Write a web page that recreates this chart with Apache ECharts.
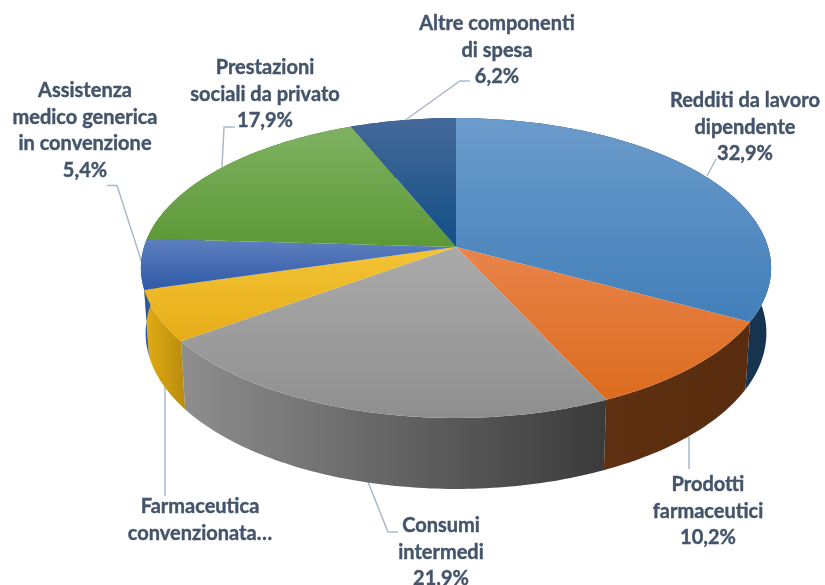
<!DOCTYPE html>
<html>
<head>
<meta charset="utf-8">
<title>Composizione della spesa</title>
<script src="https://cdn.jsdelivr.net/npm/echarts@6/dist/echarts.min.js"></script>
<style>
html, body { margin: 0; padding: 0; background: #fff; }
#chart { width: 825px; height: 585px; }
</style>
</head>
<body>
<div id="chart"></div>
<script>
// valori (clockwise da ore 12); Farmaceutica non ha etichetta, e' il resto a 100
var categoryNames = ['Redditi da lavoro dipendente', 'Prodotti farmaceutici', 'Consumi intermedi',
    'Farmaceutica convenzionata', 'Assistenza medico generica in convenzione',
    'Prestazioni sociali da privato', 'Altre componenti di spesa'];
var shareValues = [32.9, 10.2, 21.9, 5.5, 5.4, 17.9, 6.2];
var labelTexts = [
    ['Redditi da lavoro', 'dipendente', '32,9%'],
    ['Prodotti', 'farmaceutici', '10,2%'],
    ['Consumi', 'intermedi', '21,9%'],
    ['Farmaceutica', 'convenzionata…'],
    ['Assistenza', 'medico generica', 'in convenzione', '5,4%'],
    ['Prestazioni', 'sociali da privato', '17,9%'],
    ['Altre componenti', 'di spesa', '6,2%']
];

// colori: faccia superiore (alto, basso) e parete (sinistra, destra)
var topColors = [['#6b9bcb', '#427fb9'], ['#e8834a', '#dc6c1e'], ['#aaaaaa', '#8f8f8f'], ['#f3c435', '#e6ac17'],
    ['#5f80bf', '#2f5aa8'], ['#7fb262', '#5c9835'], ['#44699a', '#124f85']];
var wallColors = [['#1a3a5a', '#163450'], ['#5e3011', '#5a2c0f'], ['#8e8e8e', '#3a3a3a'], ['#e2ae12', '#b98b0e'],
    ['#2c57a2', '#2c57a2'], ['#4c7a2c', '#4c7a2c'], ['#123a60', '#123a60']];

// posizione delle etichette: centro x, y della prima riga, linea guida
var labelLayout = [
    { x: 745, y: 101, leader: [[716, 159], [707, 176]] },
    { x: 708, y: 485, leader: [[689, 437], [689, 469]] },
    { x: 441, y: 526, leader: [[398, 532], [388, 532], [368, 482]] },
    { x: 200, y: 507, leader: [[165, 385], [165, 496]] },
    { x: 85, y: 91, leader: [[107, 185.5], [117, 185.5], [142, 263]] },
    { x: 265, y: 68, leader: [[235, 127], [224, 127], [222, 167]] },
    { x: 497, y: 24, leader: [[470, 81], [460, 81], [404, 121]] }
];
var LINE_HEIGHT = 26.5;

// proiezione prospettica del disco
var CX = 456, CY = 247, RX = 312, RY = 147, PERSP = 0.14;

function project(deg, r) {
    var a = deg * Math.PI / 180;
    var u = Math.sin(a) * r, v = -Math.cos(a) * r;
    var w = 1 - PERSP * v;
    return { x: CX + RX * u / w, y: CY + RY * v / w, v: v };
}

// faccia inferiore: poco piu' stretta, spessore che cresce verso chi guarda
function projectBottom(deg) {
    var p = project(deg, 1);
    return [CX + (p.x - CX) * 0.985, p.y + 64 + 7 * p.v];
}

function sliceAngles(index) {
    var total = 0, start = 0;
    for (var i = 0; i < shareValues.length; i++) {
        if (i < index) start += shareValues[i];
        total += shareValues[i];
    }
    return [start / total * 360, (start + shareValues[index]) / total * 360];
}

function renderTop(params, api) {
    var ang = sliceAngles(params.dataIndex);
    var pts = [[CX, CY]];
    for (var d = ang[0]; d < ang[1]; d += 1) {
        var p = project(d, 1);
        pts.push([p.x, p.y]);
    }
    var e = project(ang[1], 1);
    pts.push([e.x, e.y]);
    var c = topColors[params.dataIndex];
    return {
        type: 'polygon',
        shape: { points: pts },
        style: {
            fill: new echarts.graphic.LinearGradient(0, 0, 0, 1, [
                { offset: 0, color: c[0] }, { offset: 1, color: c[1] }
            ])
        }
    };
}

function renderWall(params, api) {
    var ang = sliceAngles(params.dataIndex);
    var upper = [], lower = [];
    for (var d = ang[0]; d <= ang[1]; d += 1) {
        var p = project(d, 1);
        upper.push([p.x, p.y]);
        lower.unshift(projectBottom(d));
    }
    var e = project(ang[1], 1);
    upper.push([e.x, e.y]);
    lower.unshift(projectBottom(ang[1]));
    var c = wallColors[params.dataIndex];
    return {
        type: 'polygon',
        shape: { points: upper.concat(lower) },
        style: {
            fill: new echarts.graphic.LinearGradient(0, 0, 1, 0, [
                { offset: 0, color: c[0] }, { offset: 1, color: c[1] }
            ])
        }
    };
}

function renderLabel(params, api) {
    var lay = labelLayout[params.dataIndex];
    var lines = labelTexts[params.dataIndex];
    var children = [{
        type: 'polyline',
        shape: { points: lay.leader },
        style: { stroke: '#adb9ca', lineWidth: 1.5, fill: null }
    }];
    for (var i = 0; i < lines.length; i++) {
        children.push({
            type: 'text',
            style: {
                text: lines[i],
                x: lay.x,
                y: lay.y + i * LINE_HEIGHT,
                align: 'center',
                verticalAlign: 'middle',
                fill: '#44546a',
                stroke: '#44546a',
                lineWidth: 0.4,
                font: 'bold 20px Lato'
            }
        });
    }
    return { type: 'group', children: children };
}

var seriesData = shareValues.map(function (v, i) {
    return { name: categoryNames[i], value: [v] };
});

var chart = echarts.init(document.getElementById('chart'));
chart.setOption({
    animation: false,
    backgroundColor: '#ffffff',
    series: [
        { type: 'custom', coordinateSystem: 'none', silent: true, z: 1, renderItem: renderLabel, data: seriesData },
        { type: 'custom', coordinateSystem: 'none', silent: true, z: 2, renderItem: renderWall, data: seriesData },
        { type: 'custom', coordinateSystem: 'none', silent: true, z: 3, renderItem: renderTop, data: seriesData }
    ]
});
</script>
</body>
</html>
